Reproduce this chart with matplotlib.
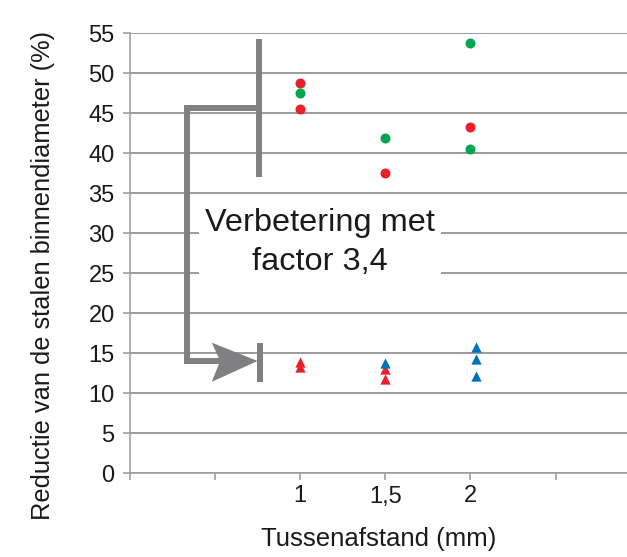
import numpy as np
import matplotlib.pyplot as plt
from matplotlib.patches import Polygon

plt.rcParams['font.family'] = ['Liberation Sans', 'DejaVu Sans']

x_rood_bol = [1, 1, 1.5, 2]
y_rood_bol = [48.8, 45.5, 37.5, 43.2]
x_groen_bol = [1, 1.5, 2, 2]
y_groen_bol = [47.5, 41.9, 53.8, 40.5]
x_rood_drie = [1, 1, 1.5, 1.5]
y_rood_drie = [13.9, 13.2, 13.0, 11.8]
x_blauw_drie = [1.5, 2.03, 2.03, 2.03]
y_blauw_drie = [13.8, 15.7, 14.3, 12.1]

x_ticks = [0, 0.5, 1, 1.5, 2, 2.5]
x_tick_labels = ['', '', '1', '1,5', '2', '']
y_ticks = list(range(0, 60, 5))

ROOD = '#e8202a'
GROEN = '#00a650'
BLAUW = '#0072bc'
GRIJS = '#808083'

fig = plt.figure(figsize=(6.27, 5.57), dpi=100)
ax = fig.add_axes([130 / 627, 1 - 473 / 557, 1 - 130 / 627, (473 - 33) / 557])

ax.set_xlim(0, 2.92)
ax.set_ylim(0, 55)
ax.set_xticks(x_ticks)
ax.set_xticklabels(x_tick_labels)
ax.set_yticks(y_ticks)
ax.grid(axis='y', color='#8a8a8a', linewidth=1.2, zorder=0)
ax.set_axisbelow(True)
for s in ['top', 'right']:
    ax.spines[s].set_visible(False)
for s in ['left', 'bottom']:
    ax.spines[s].set_color('#a0a0a0')
    ax.spines[s].set_linewidth(1.2)
ax.tick_params(axis='both', direction='out', length=5, width=1.2, color='#a0a0a0',
               labelsize=17, labelcolor='#1a1a1a', pad=4)
ax.tick_params(axis='y', pad=6)

ax.set_xlabel('Tussenafstand (mm)', fontsize=18.5, color='#1a1a1a')
ax.xaxis.set_label_coords(0.5, -0.122)
ax.set_ylabel('Reductie van de stalen binnendiameter (%)', fontsize=18.3,
              color='#1a1a1a')
ax.yaxis.set_label_coords(-0.150, 0.45)

ax.scatter(x_rood_bol, y_rood_bol, s=52, color=ROOD, zorder=5, linewidths=0)
ax.scatter(x_groen_bol, y_groen_bol, s=52, color=GROEN, zorder=5, linewidths=0)
ax.scatter(x_rood_drie, y_rood_drie, s=55, marker='^', color=ROOD, zorder=5, linewidths=0)
ax.scatter(x_blauw_drie, y_blauw_drie, s=55, marker='^', color=BLAUW, zorder=5, linewidths=0)

# Haak met pijl
lw = 4.3
ax.plot([0.758, 0.758], [54.3, 37.0], color=GRIJS, lw=lw, solid_capstyle='butt', zorder=3)
ax.plot([0.758, 0.332, 0.332, 0.56], [45.6, 45.6, 14.0, 14.0], color=GRIJS, lw=lw,
        solid_joinstyle='miter', solid_capstyle='butt', zorder=3)
ax.plot([0.762, 0.762], [16.3, 11.4], color=GRIJS, lw=lw, solid_capstyle='butt', zorder=3)
kop = Polygon([(0.75, 14.0), (0.48, 16.3), (0.53, 14.0), (0.48, 11.4)],
              closed=True, facecolor=GRIJS, edgecolor='none', zorder=3)
ax.add_patch(kop)

ax.text(1.116, 28.8, 'Verbetering met\nfactor 3,4', ha='center', va='center',
        fontsize=23.4, color='#1a1a1a', linespacing=1.4, zorder=4,
        bbox=dict(boxstyle='square,pad=0.2', facecolor='white', edgecolor='none'))

fig.savefig('out.png', dpi=100)
